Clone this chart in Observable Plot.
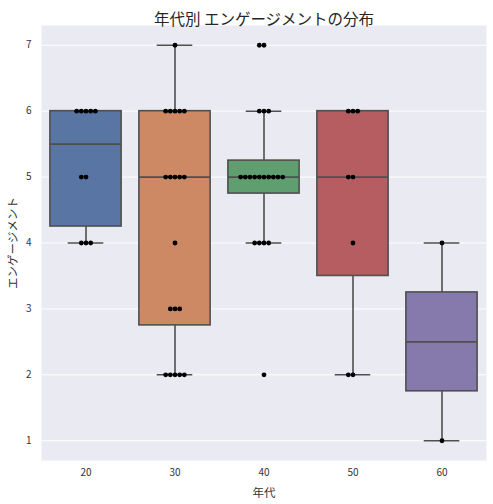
<!DOCTYPE html>
<html>
<head>
<meta charset="utf-8">
<script src="https://cdn.jsdelivr.net/npm/d3@7"></script>
<script src="https://cdn.jsdelivr.net/npm/@observablehq/plot@0.6"></script>
<style>
  html, body { margin: 0; padding: 0; background: #fff; }
  #chart svg { display: block; }
</style>
</head>
<body>
<div id="chart"></div>
<script>
const ages = ["20", "30", "40", "50", "60"];
const engage20 = [6, 6, 6, 6, 6, 5, 5, 4, 4, 4];
const engage30 = [7, 6, 6, 6, 6, 6, 5, 5, 5, 5, 5, 4, 3, 3, 3, 2, 2, 2, 2, 2];
const engage40 = [7, 7, 6, 6, 6, 5, 5, 5, 5, 5, 5, 5, 5, 5, 5, 4, 4, 4, 4, 2];
const engage50 = [6, 6, 6, 5, 5, 4, 2, 2];
const engage60 = [4, 1];
const boxColors = ["#5975a4", "#cc8963", "#5f9e6e", "#b55d60", "#857aab"];
const yTicks = [1, 2, 3, 4, 5, 6, 7];

const groups = [engage20, engage30, engage40, engage50, engage60];
const FONT = "'Noto Sans CJK JP', 'DejaVu Sans', sans-serif";

// box statistics
const boxes = groups.map((vals, i) => {
  const s = vals.slice().sort(d3.ascending);
  const q1 = d3.quantile(s, 0.25), med = d3.quantile(s, 0.5), q3 = d3.quantile(s, 0.75);
  const iqr = q3 - q1;
  const lo = d3.min(s.filter(v => v >= q1 - 1.5 * iqr));
  const hi = d3.max(s.filter(v => v <= q3 + 1.5 * iqr));
  return {i, age: ages[i], q1, med, q3, lo, hi, color: boxColors[i]};
});

// swarm-like placement: same values side by side
const step = 0.0525;
const dots = [];
groups.forEach((vals, i) => {
  const counts = d3.rollup(vals, v => v.length, v => v);
  for (const [v, n] of counts) {
    for (let k = 0; k < n; k++) {
      const m = Math.ceil(k / 2);
      const off = k === 0 ? 0 : (k % 2 === 1 ? -m : m);
      dots.push({x: i + off * step, y: v});
    }
  }
});

const stroke = "#4f4f4f";
const chart = Plot.plot({
  width: 493,
  height: 504,
  marginLeft: 41,
  marginRight: 7,
  marginTop: 25,
  marginBottom: 44,
  style: {fontFamily: FONT, fontSize: "10px", color: "#333", background: "#fff"},
  x: {domain: [-0.5, 4.5]},
  y: {domain: [0.7, 7.3]},
  marks: [
    Plot.frame({fill: "#eaeaf2", stroke: null}),
    Plot.gridY(yTicks, {stroke: "#fff", strokeOpacity: 1, strokeWidth: 1}),
    Plot.axisY({ticks: yTicks, tickFormat: d3.format("d"), tickSize: 0, tickPadding: 10, fontSize: 10, label: null}),
    Plot.axisX({ticks: [0, 1, 2, 3, 4], tickFormat: i => ages[i], tickSize: 0, tickPadding: 8, fontSize: 10, label: null}),
    Plot.text(["エンゲージメント"], {frameAnchor: "left", dx: -28, rotate: -90, textAnchor: "middle", fontSize: 11.5, fill: "#333", fontFamily: FONT}),
    Plot.text(["年代"], {frameAnchor: "bottom", dy: 36, fontSize: 11.5, fill: "#333", fontFamily: FONT}),
    // whiskers
    Plot.ruleX(boxes, {x: "i", y1: "q3", y2: "hi", stroke, strokeWidth: 1.6}),
    Plot.ruleX(boxes, {x: "i", y1: "lo", y2: "q1", stroke, strokeWidth: 1.6}),
    Plot.ruleY(boxes, {y: "hi", x1: d => d.i - 0.2, x2: d => d.i + 0.2, stroke, strokeWidth: 1.6}),
    Plot.ruleY(boxes, {y: "lo", x1: d => d.i - 0.2, x2: d => d.i + 0.2, stroke, strokeWidth: 1.6}),
    // boxes
    Plot.rect(boxes, {x1: d => d.i - 0.4, x2: d => d.i + 0.4, y1: "q1", y2: "q3", fill: "color", stroke, strokeWidth: 1.6}),
    Plot.ruleY(boxes, {y: "med", x1: d => d.i - 0.4, x2: d => d.i + 0.4, stroke, strokeWidth: 1.6}),
    // swarm
    Plot.dot(dots, {x: "x", y: "y", r: 2.4, fill: "#000", stroke: null}),
    Plot.text(["年代別 エンゲージメントの分布"], {frameAnchor: "top", dy: -12, fontSize: 15.5, fill: "#262626", fontFamily: FONT})
  ]
});
document.getElementById("chart").appendChild(chart);
</script>
</body>
</html>
